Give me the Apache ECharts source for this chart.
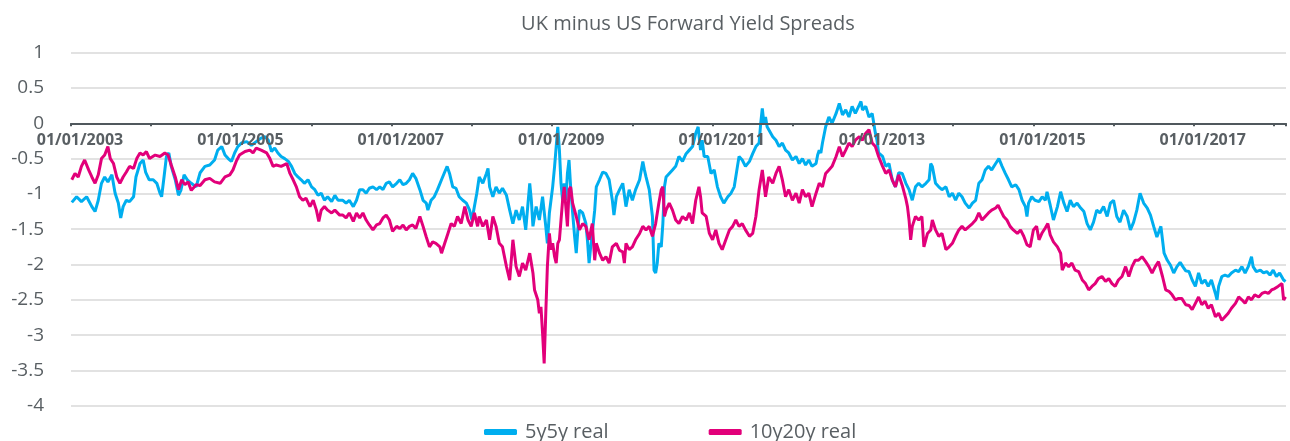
<!DOCTYPE html>
<html><head><meta charset="utf-8">
<script src="https://cdn.jsdelivr.net/npm/echarts@6/dist/echarts.min.js"></script>
<style>html,body{margin:0;padding:0;background:#fff}#c{width:1290px;height:441px}</style>
</head><body><div id="c"></div>
<script>
const chartTitle = 'UK minus US Forward Yield Spreads';
const seriesNames = ['5y5y real', '10y20y real'];
const seriesColors = ['#00AEEF', '#E2007A'];
const xLabelYears = [2003, 2005, 2007, 2009, 2011, 2013, 2015, 2017];
const xLabelPrefix = '01/01/';
const yMin = -4, yMax = 1, yStep = 0.5;

const dates5y5y = [2003.01,2003.07,2003.13,2003.195,2003.26,2003.30,2003.34,2003.38,2003.42,2003.46,2003.51,2003.55,2003.59,2003.62,2003.65,2003.69,2003.73,2003.78,2003.81,2003.86,2003.90,2003.93,2003.975,2004.025,2004.07,2004.11,2004.13,2004.16,2004.19,2004.22,2004.25,2004.30,2004.34,2004.37,2004.41,2004.45,2004.50,2004.56,
2004.61,2004.67,2004.73,2004.79,2004.83,2004.88,2004.92,2004.96,2005.00,2005.04,2005.08,2005.125,2005.19,2005.25,2005.31,2005.37,2005.42,2005.46,2005.50,2005.54,2005.58,2005.62,2005.665,2005.71,2005.75,2005.79,2005.83,2005.87,2005.91,2005.955,2006.00,2006.04,2006.08,2006.12,2006.16,2006.20,2006.25,2006.29,2006.33,
2006.39,2006.43,2006.47,2006.52,2006.56,2006.60,2006.64,2006.68,2006.72,2006.765,2006.81,2006.85,2006.89,2006.93,2006.97,2007.01,2007.06,2007.10,2007.14,2007.18,2007.22,2007.26,2007.30,2007.35,2007.39,2007.43,2007.45,2007.49,2007.53,2007.57,2007.62,2007.66,2007.69,2007.72,2007.76,2007.80,2007.84,2007.885,2007.93,2007.97,2008.00,2008.03,2008.06,
2008.09,2008.135,2008.18,2008.20,2008.22,2008.26,2008.30,2008.34,2008.38,2008.43,2008.47,2008.51,2008.55,2008.59,2008.63,2008.67,2008.72,2008.74,2008.76,2008.80,2008.84,2008.88,2008.92,2008.94,2008.965,2009.006,2009.03,2009.05,2009.07,2009.09,2009.11,2009.13,2009.15,2009.17,2009.19,2009.21,2009.23,2009.255,2009.28,2009.30,2009.32,2009.34,2009.38,2009.42,2009.44,2009.46,2009.48,2009.50,2009.53,2009.55,2009.59,2009.63,2009.67,2009.71,2009.75,2009.77,2009.80,
2009.84,2009.88,2009.92,2009.96,2010.00,2010.04,2010.09,2010.13,2010.15,2010.17,2010.21,2010.25,2010.27,2010.29,2010.31,2010.33,2010.36,2010.38,2010.40,2010.42,2010.46,2010.50,2010.54,2010.58,2010.625,2010.67,2010.71,2010.75,2010.79,2010.82,2010.85,2010.87,2010.895,2010.94,2010.98,2011.02,2011.06,2011.10,2011.14,2011.19,2011.23,2011.27,2011.31,2011.33,2011.37,2011.41,2011.46,2011.50,2011.54,2011.58,2011.60,2011.62,2011.64,2011.66,2011.68,
2011.70,2011.75,2011.79,2011.83,2011.87,2011.91,2011.95,2011.995,2012.04,2012.08,2012.12,2012.16,2012.20,2012.24,2012.29,2012.31,2012.33,2012.35,2012.37,2012.41,2012.45,2012.49,2012.54,2012.58,2012.62,2012.66,2012.70,2012.74,2012.78,2012.83,2012.85,2012.87,2012.91,2012.95,2012.99,2013.01,2013.03,2013.05,2013.07,2013.12,2013.16,2013.20,2013.24,2013.28,
2013.32,2013.365,2013.41,2013.45,2013.49,2013.53,2013.57,2013.61,2013.66,2013.70,2013.72,2013.74,2013.78,2013.82,2013.86,2013.91,2013.95,2013.99,2014.03,2014.07,2014.11,2014.15,2014.20,2014.24,2014.28,2014.32,2014.36,2014.40,2014.44,2014.48,2014.53,2014.57,2014.61,2014.65,2014.69,2014.73,2014.78,2014.82,2014.86,2014.90,2014.92,2014.94,2014.98,2015.02,
2015.07,2015.11,2015.15,2015.17,2015.21,2015.25,2015.30,2015.34,2015.38,2015.42,2015.46,2015.50,2015.545,2015.59,2015.63,2015.67,2015.71,2015.75,2015.79,2015.83,2015.875,2015.92,2015.96,2016.00,2016.04,2016.08,2016.125,2016.17,2016.21,2016.25,2016.29,2016.33,2016.375,2016.42,2016.46,2016.50,2016.54,2016.59,2016.63,2016.67,
2016.71,2016.75,2016.79,2016.83,2016.87,2016.90,2016.94,2016.98,2017.02,2017.06,2017.10,2017.14,2017.18,2017.22,2017.27,2017.29,2017.31,2017.35,2017.39,2017.43,2017.47,2017.52,2017.56,2017.60,2017.64,2017.68,2017.72,2017.74,2017.78,2017.83,2017.87,2017.91,2017.95,2017.99,2018.03,2018.07,2018.12,2018.145];

const values5y5y = [-1.12,-1.04,-1.11,-1.04,-1.18,-1.25,-1.09,-0.85,-0.76,-0.83,-0.73,-0.99,-1.13,-1.34,-1.18,-1.09,-1.11,-1.04,-0.76,-0.57,-0.52,-0.69,-0.80,-0.80,-0.85,-0.99,-1.04,-0.76,-0.47,-0.42,-0.61,-0.80,-1.02,-0.95,-0.73,-0.80,-0.85,-0.90,
-0.70,-0.61,-0.59,-0.52,-0.38,-0.33,-0.45,-0.50,-0.54,-0.42,-0.33,-0.28,-0.26,-0.31,-0.26,-0.21,-0.19,-0.24,-0.40,-0.35,-0.42,-0.47,-0.50,-0.54,-0.61,-0.71,-0.76,-0.80,-0.85,-0.80,-0.90,-0.94,-1.02,-0.99,-1.09,-1.04,-1.11,-1.02,-1.09,
-1.09,-1.13,-1.09,-1.18,-1.09,-0.94,-0.94,-0.99,-0.92,-0.90,-0.94,-0.90,-0.94,-0.85,-0.83,-0.90,-0.85,-0.80,-0.87,-0.85,-0.80,-0.71,-0.78,-0.94,-1.09,-1.13,-1.23,-1.09,-1.04,-0.94,-0.80,-0.69,-0.61,-0.71,-0.90,-0.92,-1.04,-1.09,-1.13,-1.23,-1.37,-1.18,-0.99,
-0.76,-0.85,-0.71,-0.64,-0.90,-1.04,-0.90,-0.99,-0.92,-1.02,-1.23,-1.42,-1.23,-1.37,-1.18,-1.51,-0.85,-1.09,-1.46,-1.18,-1.37,-1.04,-1.46,-1.70,-1.27,-0.90,-0.61,-0.33,-0.05,-0.38,-0.85,-1.09,-0.85,-1.09,-0.71,-0.52,-0.90,-1.27,-1.61,-1.84,-1.51,-1.23,-1.27,-1.42,-1.66,-1.98,-1.75,-1.56,-1.23,-0.90,-0.80,-0.69,-0.71,-0.80,-1.09,-1.30,-1.04,
-0.94,-0.85,-1.18,-0.94,-1.09,-0.94,-0.80,-0.54,-0.66,-0.76,-0.94,-1.32,-2.08,-2.12,-1.98,-1.70,-1.75,-1.42,-0.90,-0.76,-0.71,-0.66,-0.61,-0.47,-0.54,-0.43,-0.38,-0.33,-0.14,-0.05,-0.38,-0.24,-0.47,-0.47,-0.71,-0.66,-0.90,-1.04,-1.13,-1.04,-0.99,-0.90,-0.61,-0.47,-0.52,-0.61,-0.54,-0.43,-0.33,-0.28,0.00,0.21,0.00,0.09,-0.05,
-0.05,-0.19,-0.24,-0.33,-0.28,-0.38,-0.42,-0.52,-0.47,-0.57,-0.50,-0.59,-0.52,-0.61,-0.57,-0.45,-0.38,-0.42,-0.28,-0.05,0.09,0.00,0.14,0.28,0.12,0.19,0.09,0.24,0.14,0.26,0.31,0.19,0.24,0.09,0.14,0.00,-0.14,-0.24,-0.42,-0.47,-0.61,-0.57,-0.80,-0.90,
-0.70,-0.71,-0.85,-0.94,-1.09,-0.90,-0.85,-0.90,-0.85,-0.80,-0.57,-0.61,-0.85,-0.90,-0.94,-0.90,-1.04,-0.99,-1.09,-0.99,-1.04,-1.13,-1.20,-1.13,-1.09,-0.85,-0.80,-0.66,-0.61,-0.66,-0.57,-0.50,-0.61,-0.71,-0.80,-0.90,-0.87,-0.94,-1.09,-1.18,-1.32,-1.13,-1.04,-1.09,
-1.11,-1.04,-1.09,-0.97,-1.16,-1.37,-1.18,-0.97,-1.13,-1.25,-1.09,-1.18,-1.13,-1.20,-1.25,-1.42,-1.51,-1.40,-1.23,-1.27,-1.18,-1.32,-1.13,-1.09,-1.32,-1.40,-1.23,-1.32,-1.51,-1.40,-1.23,-0.99,-1.13,-1.20,-1.30,-1.46,-1.61,-1.46,-1.84,-1.94,
-2.01,-2.12,-2.03,-1.97,-2.04,-2.09,-2.10,-2.22,-2.31,-2.12,-2.27,-2.22,-2.31,-2.22,-2.41,-2.50,-2.31,-2.17,-2.15,-2.17,-2.12,-2.08,-2.10,-2.03,-2.12,-2.03,-1.89,-2.03,-2.10,-2.08,-2.12,-2.10,-2.15,-2.08,-2.17,-2.12,-2.22,-2.24];

const dates10y20y = [2003.01,2003.05,2003.09,2003.13,2003.17,2003.22,2003.26,2003.30,2003.34,2003.38,2003.42,2003.46,2003.49,2003.53,2003.57,2003.61,2003.65,2003.69,2003.73,2003.78,2003.82,2003.86,2003.90,2003.94,2003.98,2004.05,2004.11,2004.17,2004.21,2004.25,2004.30,2004.34,2004.38,2004.42,2004.46,2004.50,2004.56,
2004.61,2004.67,2004.73,2004.79,2004.86,2004.92,2004.98,2005.02,2005.06,2005.10,2005.17,2005.23,2005.27,2005.31,2005.37,2005.44,2005.48,2005.52,2005.56,2005.62,2005.69,2005.73,2005.77,2005.81,2005.85,2005.89,2005.93,2005.98,2006.02,2006.06,2006.09,2006.12,2006.16,2006.20,2006.25,2006.29,
2006.35,2006.39,2006.43,2006.47,2006.52,2006.56,2006.60,2006.64,2006.68,2006.72,2006.765,2006.81,2006.85,2006.89,2006.93,2006.97,2007.01,2007.06,2007.10,2007.14,2007.18,2007.22,2007.26,2007.30,2007.35,2007.39,2007.43,2007.47,2007.51,2007.55,2007.60,2007.62,2007.66,2007.70,2007.74,2007.78,2007.82,2007.865,2007.91,2007.95,2007.99,2008.03,2008.07,
2008.09,2008.135,2008.18,2008.22,2008.26,2008.30,2008.34,2008.38,2008.43,2008.47,2008.51,2008.55,2008.59,2008.63,2008.67,2008.72,2008.76,2008.78,2008.82,2008.84,2008.86,2008.88,2008.90,2008.92,2008.94,2008.965,2008.985,2009.006,2009.03,2009.05,2009.07,2009.09,2009.11,2009.13,2009.15,2009.17,2009.19,2009.21,2009.23,2009.255,2009.30,2009.34,2009.38,2009.42,2009.46,2009.50,2009.53,2009.55,2009.59,2009.63,2009.67,2009.71,2009.75,2009.80,
2009.84,2009.88,2009.90,2009.92,2009.96,2010.00,2010.04,2010.09,2010.13,2010.17,2010.21,2010.25,2010.29,2010.33,2010.36,2010.38,2010.40,2010.42,2010.46,2010.50,2010.54,2010.58,2010.625,2010.67,2010.71,2010.75,2010.79,2010.83,2010.85,2010.87,2010.92,2010.96,2011.00,2011.04,2011.08,2011.12,2011.165,2011.21,2011.25,2011.29,2011.33,2011.37,2011.41,2011.46,2011.50,2011.54,2011.58,2011.62,2011.66,
2011.70,2011.75,2011.79,2011.83,2011.87,2011.91,2011.95,2011.995,2012.04,2012.08,2012.12,2012.16,2012.20,2012.24,2012.29,2012.33,2012.37,2012.41,2012.45,2012.49,2012.54,2012.58,2012.62,2012.66,2012.70,2012.74,2012.78,2012.83,2012.87,2012.91,2012.95,2012.99,2013.03,2013.07,2013.12,2013.16,2013.20,2013.24,2013.28,
2013.32,2013.365,2013.41,2013.43,2013.45,2013.47,2013.49,2013.53,2013.57,2013.61,2013.635,2013.68,2013.72,2013.74,2013.78,2013.82,2013.86,2013.91,2013.95,2013.99,2014.03,2014.07,2014.11,2014.15,2014.20,2014.24,2014.28,2014.32,2014.36,2014.40,2014.44,2014.48,2014.53,2014.56,2014.59,2014.63,2014.67,2014.71,2014.75,2014.80,2014.84,2014.88,2014.92,2014.96,2015.00,2015.04,
2015.07,2015.11,2015.15,2015.18,2015.21,2015.25,2015.30,2015.34,2015.36,2015.40,2015.44,2015.48,2015.52,2015.565,2015.61,2015.65,2015.69,2015.73,2015.77,2015.81,2015.855,2015.90,2015.94,2015.98,2016.02,2016.06,2016.105,2016.15,2016.19,2016.23,2016.27,2016.31,2016.355,2016.40,2016.44,2016.48,2016.52,2016.56,2016.61,2016.65,
2016.69,2016.73,2016.77,2016.81,2016.85,2016.90,2016.94,2016.98,2017.02,2017.06,2017.10,2017.14,2017.18,2017.22,2017.27,2017.31,2017.35,2017.39,2017.43,2017.47,2017.52,2017.56,2017.60,2017.64,2017.68,2017.72,2017.76,2017.81,2017.85,2017.89,2017.93,2017.97,2018.01,2018.05,2018.10,2018.12,2018.145];

const values10y20y = [-0.80,-0.71,-0.76,-0.61,-0.52,-0.66,-0.76,-0.85,-0.73,-0.50,-0.45,-0.33,-0.50,-0.57,-0.76,-0.85,-0.76,-0.69,-0.61,-0.64,-0.50,-0.42,-0.45,-0.40,-0.50,-0.45,-0.47,-0.42,-0.45,-0.59,-0.76,-0.94,-0.80,-0.87,-0.83,-0.95,-0.87,
-0.88,-0.80,-0.78,-0.83,-0.85,-0.76,-0.73,-0.66,-0.54,-0.45,-0.40,-0.38,-0.42,-0.35,-0.38,-0.42,-0.50,-0.61,-0.59,-0.61,-0.57,-0.71,-0.80,-0.90,-1.04,-1.09,-1.06,-1.18,-1.09,-1.23,-1.39,-1.23,-1.18,-1.23,-1.27,-1.23,
-1.30,-1.30,-1.34,-1.27,-1.39,-1.27,-1.34,-1.27,-1.37,-1.44,-1.51,-1.44,-1.42,-1.34,-1.30,-1.37,-1.53,-1.46,-1.49,-1.44,-1.51,-1.46,-1.44,-1.49,-1.32,-1.46,-1.61,-1.75,-1.68,-1.70,-1.75,-1.84,-1.70,-1.56,-1.42,-1.46,-1.32,-1.42,-1.18,-1.37,-1.46,-1.27,-1.46,
-1.32,-1.46,-1.37,-1.65,-1.32,-1.46,-1.70,-1.75,-2.03,-2.22,-1.65,-2.03,-2.17,-1.98,-2.08,-1.84,-2.12,-2.36,-2.50,-2.69,-2.60,-2.97,-3.40,-2.69,-2.03,-1.56,-1.79,-1.70,-1.89,-1.98,-1.70,-1.65,-1.37,-1.09,-0.90,-1.18,-1.46,-0.94,-0.90,-1.13,-1.32,-1.51,-1.42,-1.46,-1.65,-1.42,-1.94,-1.70,-1.84,-1.94,-1.89,-1.98,-1.75,-1.70,
-1.80,-1.82,-1.98,-1.70,-1.79,-1.75,-1.65,-1.56,-1.46,-1.51,-1.46,-1.60,-1.42,-1.13,-0.94,-0.90,-1.32,-1.23,-1.13,-1.23,-1.37,-1.42,-1.32,-1.37,-1.27,-1.42,-1.09,-0.90,-1.04,-1.27,-1.32,-1.56,-1.65,-1.51,-1.70,-1.79,-1.65,-1.51,-1.46,-1.37,-1.46,-1.42,-1.51,-1.60,-1.56,-1.32,-0.94,-0.66,-1.04,
-0.76,-0.85,-0.71,-0.61,-0.80,-1.04,-0.94,-1.09,-0.99,-1.13,-0.94,-1.04,-0.99,-1.18,-0.99,-0.85,-0.90,-0.71,-0.66,-0.61,-0.47,-0.33,-0.47,-0.38,-0.28,-0.33,-0.24,-0.19,-0.24,-0.14,-0.09,-0.28,-0.33,-0.47,-0.61,-0.71,-0.66,-0.80,-0.90,
-0.73,-0.88,-1.07,-1.18,-1.37,-1.65,-1.46,-1.32,-1.37,-1.32,-1.75,-1.56,-1.51,-1.37,-1.51,-1.60,-1.56,-1.79,-1.75,-1.70,-1.60,-1.51,-1.46,-1.51,-1.46,-1.42,-1.37,-1.27,-1.37,-1.32,-1.27,-1.23,-1.20,-1.16,-1.23,-1.32,-1.37,-1.46,-1.51,-1.56,-1.51,-1.60,-1.72,-1.75,-1.51,-1.46,
-1.65,-1.55,-1.48,-1.42,-1.58,-1.68,-1.75,-1.84,-2.08,-1.98,-2.03,-1.98,-2.08,-2.10,-2.22,-2.27,-2.36,-2.31,-2.27,-2.20,-2.17,-2.24,-2.20,-2.27,-2.31,-2.22,-2.17,-2.03,-2.17,-2.03,-1.94,-1.94,-1.89,-1.96,-2.03,-2.12,-2.03,-1.96,-2.17,-2.36,
-2.38,-2.43,-2.50,-2.48,-2.48,-2.57,-2.58,-2.64,-2.55,-2.46,-2.57,-2.52,-2.62,-2.57,-2.74,-2.69,-2.79,-2.74,-2.69,-2.62,-2.55,-2.46,-2.50,-2.55,-2.46,-2.50,-2.43,-2.46,-2.41,-2.39,-2.41,-2.36,-2.34,-2.31,-2.27,-2.50,-2.46];

const zip = (d, v) => d.map((t, i) => [t, v[i]]);
const textColor = '#595f63';
const gridTop = 52.7, gridBottom = 35.3, chartH = 441;
// the date axis sits on the zero line: offset it up from the grid bottom
const zeroOffset = -((chartH - gridBottom - gridTop) * (0 - yMin) / (yMax - yMin));
const chart = echarts.init(document.getElementById('c'));
chart.setOption({
  animation: false,
  title: {
    text: chartTitle, left: 683, top: 9, textAlign: 'center',
    textStyle: { fontFamily: 'Open Sans', fontSize: 20, fontWeight: 'normal', color: textColor }
  },
  legend: {
    left: 479, top: 416, itemWidth: 33, itemHeight: 6, itemGap: 100, icon: 'roundRect',
    textStyle: { fontFamily: 'Open Sans', fontSize: 20, color: textColor, lineHeight: 22, padding: [0, 0, 0, 3] },
    data: seriesNames
  },
  grid: { left: 71, right: 4, top: gridTop, bottom: gridBottom },
  xAxis: {
    type: 'value', position: 'bottom', offset: zeroOffset, min: 2003, max: 2018.15, interval: 1, z: 5,
    axisLine: { onZero: false, lineStyle: { color: '#50585d', width: 2 } },
    axisTick: { length: 3, lineStyle: { color: '#50585d', width: 2 } },
    splitLine: { show: false },
    axisLabel: {
      margin: 9, fontFamily: 'Open Sans', fontSize: 16, fontWeight: 'bold', color: textColor,
      padding: [0, 0, 0, 18],
      formatter: v => { const y = Math.round(v * 1000) / 1000; return xLabelYears.includes(y) ? xLabelPrefix + y : ''; }
    }
  },
  yAxis: {
    type: 'value', min: yMin, max: yMax, interval: yStep,
    axisLine: { show: false }, axisTick: { show: false },
    axisLabel: { margin: 27, fontFamily: 'Open Sans', fontSize: 19, color: textColor },
    splitLine: { lineStyle: { color: '#d9d9d9', width: 1.5 } }
  },
  series: [
    { name: seriesNames[0], type: 'line', data: zip(dates5y5y, values5y5y), symbol: 'none',
      lineStyle: { width: 3, color: seriesColors[0] }, itemStyle: { color: seriesColors[0] } },
    { name: seriesNames[1], type: 'line', data: zip(dates10y20y, values10y20y), symbol: 'none',
      lineStyle: { width: 3, color: seriesColors[1] }, itemStyle: { color: seriesColors[1] } }
  ]
});
</script></body></html>
